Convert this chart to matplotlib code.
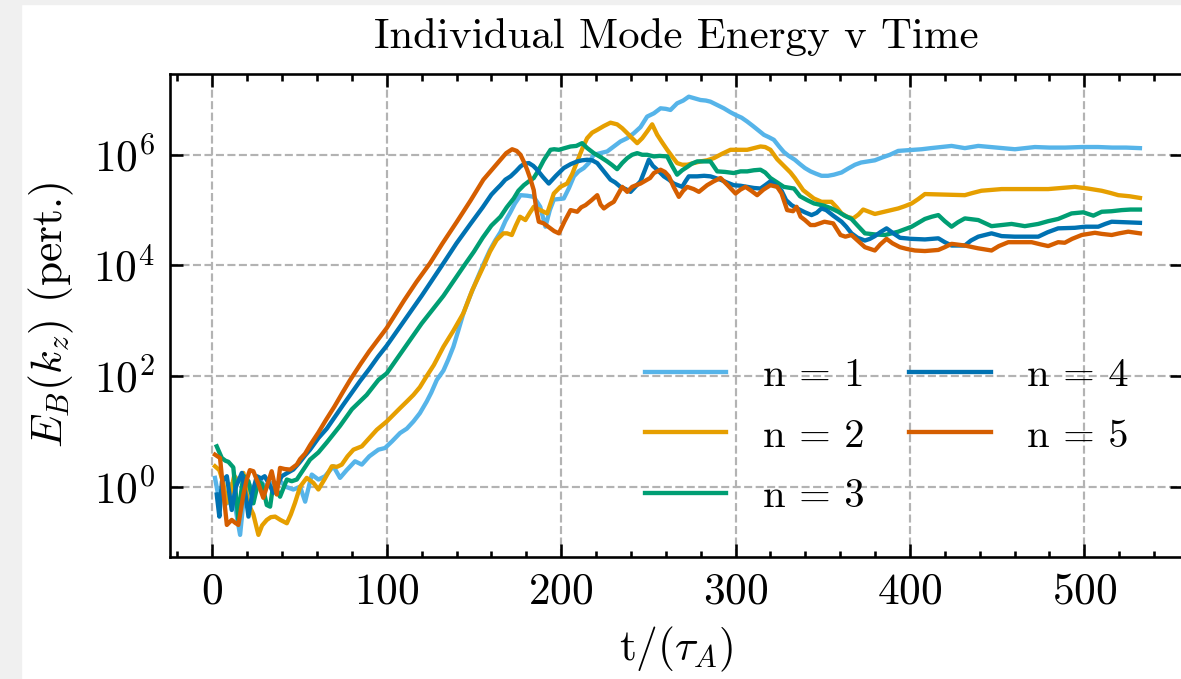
import numpy as np
import matplotlib
matplotlib.use('Agg')
import matplotlib.pyplot as plt
from matplotlib.patches import Rectangle
from matplotlib.ticker import AutoMinorLocator, NullLocator, LogLocator

# time (t / tau_A) and log10 of mode energy
t_n1 = [1.5, 3.5, 6, 8.5, 11, 13, 15.9, 18, 21, 24, 27.3, 30, 33, 36, 39, 42, 46.4, 50.3, 53.2, 57,
        60.8, 64.6, 69.4, 73.2, 77, 81.8, 85.7, 90, 95.2, 99, 103, 107.6, 111.5, 115.3, 119, 122.9,
        125.5, 128.7, 132.5, 135.3, 138.2, 141, 144, 147.8, 151.6, 155.4, 159.2, 162.2, 165.2, 168,
        170.7, 173.5, 176.7, 180.5, 184.3, 188, 191, 193.5, 195.8, 198.7, 201.5, 204.5, 207.3, 210,
        213, 215.8, 218.7, 222.5, 226.4, 230.2, 234, 237.9, 241.7, 245.5, 249.3, 253.2, 257, 260,
        262.7, 266.5, 270, 273.2, 276.5, 279.9, 283, 285.6, 289.5, 293.3, 297, 300, 303.5, 306.7,
        310, 313.5, 316.3, 319, 322, 325, 327.7, 330.5, 334, 337, 339.8, 343, 346, 349.3, 353,
        356.4, 360.8, 364.5, 368.5, 372, 376, 379.9, 384, 388.5, 393.3, 398, 402, 406.7, 412, 418,
        423.9, 431.5, 439.2, 446, 453, 460.2, 466, 471.7, 480, 489, 498.5, 508, 516, 524, 531.9]
lg_n1 = [0.16, -0.18, 0.0, -0.3, 0.05, -0.35, -0.87, -0.2, 0.05, -0.1, 0.13, 0.0, 0.08, -0.05, 0.1,
         0.0, -0.05, 0.0, -0.27, 0.22, 0.13, 0.19, 0.37, 0.16, 0.3, 0.46, 0.40, 0.55, 0.67, 0.70,
         0.82, 0.97, 1.05, 1.18, 1.33, 1.54, 1.7, 1.93, 2.1, 2.3, 2.53, 2.82, 3.14, 3.45, 3.74, 4.02,
         4.28, 4.45, 4.6, 4.8, 4.95, 5.12, 5.27, 5.26, 5.24, 5.06, 4.70, 5.0, 5.19, 5.2, 5.21, 5.4,
         5.61, 5.7, 5.76, 5.85, 6.0, 6.03, 6.06, 6.15, 6.24, 6.3, 6.39, 6.5, 6.69, 6.75, 6.84, 6.83,
         6.81, 6.93, 6.98, 7.05, 7.02, 6.99, 6.98, 6.96, 6.9, 6.84, 6.77, 6.72, 6.67, 6.60, 6.52,
         6.43, 6.36, 6.32, 6.27, 6.15, 6.05, 5.98, 5.91, 5.83, 5.76, 5.7, 5.66, 5.62, 5.62, 5.64,
         5.68, 5.75, 5.82, 5.86, 5.88, 5.90, 5.95, 6.0, 6.07, 6.08, 6.09, 6.10, 6.12, 6.14, 6.16,
         6.12, 6.16, 6.14, 6.12, 6.10, 6.12, 6.14, 6.13, 6.13, 6.14, 6.14, 6.13, 6.13, 6.12]

t_n2 = [1.5, 4, 6, 8.3, 10.5, 12.5, 15, 17.8, 20.5, 23.5, 26.4, 28.5, 31.2, 33.5, 36, 39, 42.7, 45,
        47.4, 50.3, 54.1, 57.9, 60.8, 64.6, 68.5, 71.5, 74.2, 77.5, 80.9, 85.7, 90, 94.3, 100, 103.8,
        107.6, 111.5, 115.3, 119, 122.9, 127, 132.5, 138.2, 144, 149, 155.4, 159.2, 163, 166.9, 169,
        171.7, 174, 176.4, 179.5, 182, 184.3, 188, 192, 195.8, 199.5, 203.4, 206.3, 209.2, 212,
        214.9, 217.8, 220.7, 224.5, 228.3, 232.1, 235, 237.9, 240.7, 243.6, 246.5, 249.3, 252.2,
        255.1, 258, 260.8, 263.6, 266.5, 269.4, 272.3, 276, 279.9, 283.7, 287.6, 292.4, 297.1,
        301.9, 306.7, 310.5, 314.3, 317, 320, 323.9, 327.7, 331.5, 334, 338.8, 344.9, 349.3, 355,
        358, 360.8, 364, 367.5, 370.5, 373.2, 376.5, 379.9, 386.6, 393.3, 397, 401, 404.8, 408.6,
        420, 431.5, 436, 441, 452.6, 466, 479.3, 487, 494.6, 502, 509.9, 515, 519.5, 526, 531.9]
lg_n2 = [0.37, 0.3, 0.1, -0.29, -0.1, 0.2, 0.1, 0.25, -0.3, -0.5, -0.87, -0.7, -0.6, -0.55, -0.54,
         -0.6, -0.66, -0.5, -0.29, 0.0, 0.16, 0.07, -0.05, 0.15, 0.37, 0.36, 0.40, 0.55, 0.67, 0.73,
         0.88, 1.03, 1.18, 1.3, 1.42, 1.54, 1.66, 1.8, 2.0, 2.2, 2.53, 2.82, 3.14, 3.55, 3.98, 4.25,
         4.46, 4.58, 4.58, 4.55, 4.72, 4.88, 4.82, 4.95, 5.06, 5.0, 4.94, 5.30, 5.42, 5.48, 5.65,
         5.88, 6.1, 6.30, 6.4, 6.45, 6.52, 6.58, 6.55, 6.48, 6.39, 6.3, 6.21, 6.3, 6.42, 6.55, 6.36,
         6.22, 6.09, 5.97, 5.85, 5.82, 5.82, 5.85, 5.88, 5.9, 5.94, 6.02, 6.09, 6.09, 6.09, 6.12,
         6.15, 6.14, 6.09, 5.92, 5.8, 5.68, 5.58, 5.36, 5.21, 5.15, 5.15, 5.05, 4.94, 4.88, 4.85,
         4.92, 5.01, 4.97, 4.93, 4.98, 5.03, 5.07, 5.12, 5.2, 5.29, 5.28, 5.27, 5.31, 5.35, 5.38,
         5.38, 5.38, 5.40, 5.42, 5.39, 5.35, 5.31, 5.27, 5.25, 5.22]

t_n3 = [2.5, 5.4, 7.5, 9.2, 12, 14.9, 16.5, 17.8, 20.7, 23.5, 26.4, 28.5, 31.2, 33.1, 34.5, 36, 38.8,
        42.7, 45.5, 48.4, 52, 56, 60.8, 65.6, 69.4, 73.2, 80, 88.5, 95.2, 100, 110, 120, 132.5, 144,
        150, 155, 160, 165.2, 168.8, 172.8, 175.5, 178.6, 181.5, 184.3, 187, 190, 193.9, 196,
        198.7, 202, 205.4, 208.7, 212, 215, 218.7, 222.5, 226.4, 229, 232.1, 235, 237.9, 240.7,
        243.6, 246.5, 249.3, 253.2, 256.5, 260.8, 263.6, 266.5, 269.4, 272.3, 275, 278, 281.8,
        285.6, 289.5, 294, 299, 302.9, 306.7, 310.5, 314.3, 317, 320, 323.9, 327.7, 333.5, 337,
        341.1, 345, 350.7, 355, 358.9, 362.5, 366.5, 370, 374.2, 380, 385.7, 393.3, 401, 408.6,
        412.5, 416.3, 420, 423.9, 427.5, 431.5, 439.2, 446.8, 452.6, 458.3, 465.9, 473.6, 479.3,
        485, 492.7, 499.4, 505.2, 510, 515.7, 521.4, 526.5, 531.9]
lg_n3 = [0.73, 0.52, 0.47, 0.45, 0.35, -0.6, -0.1, 0.2, 0.1, -0.3, 0.1, 0.05, -0.33, -0.36, -0.05,
         0.0, -0.18, 0.13, 0.1, 0.13, 0.3, 0.49, 0.62, 0.8, 0.95, 1.1, 1.4, 1.66, 1.93, 2.05, 2.5,
         2.95, 3.45, 3.98, 4.25, 4.5, 4.72, 4.88, 5.05, 5.21, 5.35, 5.45, 5.52, 5.58, 5.72, 5.9,
         6.09, 6.1, 6.09, 6.12, 6.15, 6.16, 6.21, 6.12, 6.03, 5.96, 5.88, 5.82, 5.74, 5.85, 5.94,
         6.0, 6.03, 6.0, 6.0, 5.97, 5.98, 5.97, 5.8, 5.64, 5.72, 5.78, 5.84, 5.88, 5.88, 5.88,
         5.70, 5.69, 5.67, 5.7, 5.70, 5.72, 5.73, 5.68, 5.58, 5.5, 5.42, 5.39, 5.25, 5.18, 5.12,
         5.08, 5.03, 4.97, 4.9, 4.84, 4.72, 4.58, 4.56, 4.55, 4.61, 4.70, 4.84, 4.88, 4.91, 4.8,
         4.70, 4.78, 4.85, 4.82, 4.71, 4.73, 4.75, 4.71, 4.75, 4.8, 4.84, 4.94, 4.96, 4.90, 4.97,
         4.98, 5.0, 5.01, 5.01]

t_n4 = [2.5, 4, 5.5, 8.3, 11.1, 13.5, 16.9, 18.8, 20.7, 23, 25.5, 28, 30, 32.5, 35, 37.5, 39.8, 43,
        46.4, 50.3, 53, 56, 60.8, 65.6, 70, 75, 80, 84.7, 90, 95, 100, 110, 120, 132.5, 140, 148,
        155, 160, 163, 165.2, 168, 171, 174, 176.7, 179, 181.5, 184, 186.2, 189.5, 192.9, 197,
        201.5, 205.4, 209.2, 212, 214.9, 217.8, 220.7, 224.5, 228.3, 231, 234, 237, 239.8, 242.5,
        245.5, 248, 250.3, 252.6, 255.1, 258.9, 261.8, 264.6, 267, 269.4, 271.3, 273.2, 278, 282,
        285.6, 291.4, 295, 299, 302.9, 306.7, 310.5, 314.3, 317, 320, 323, 326.4, 329, 332.1, 336,
        339.8, 343.6, 346.5, 349.3, 352, 356, 360.8, 363.5, 366.5, 370, 374.2, 377, 379.9, 383,
        386.6, 390.5, 394.3, 401, 408.6, 416.3, 420, 423.9, 431.5, 435, 439.2, 446.8, 452.6, 460,
        473.6, 479, 485, 494.6, 500.4, 508, 512, 515.7, 524, 531.9]
lg_n4 = [-0.14, -0.54, 0.1, 0.19, -0.42, 0.0, 0.25, -0.1, -0.54, -0.1, 0.19, 0.15, 0.19, 0.05,
         -0.11, 0.05, 0.19, 0.25, 0.31, 0.45, 0.56, 0.67, 0.88, 1.05, 1.25, 1.48, 1.7, 1.91, 2.13,
         2.35, 2.55, 3.0, 3.45, 4.04, 4.4, 4.75, 5.05, 5.28, 5.38, 5.45, 5.55, 5.61, 5.7, 5.79,
         5.84, 5.85, 5.8, 5.73, 5.6, 5.48, 5.62, 5.76, 5.83, 5.88, 5.9, 5.91, 5.9, 5.85, 5.7, 5.55,
         5.5, 5.42, 5.38, 5.33, 5.42, 5.52, 5.72, 5.91, 5.8, 5.73, 5.61, 5.55, 5.48, 5.45, 5.42,
         5.52, 5.61, 5.61, 5.62, 5.61, 5.55, 5.5, 5.45, 5.44, 5.42, 5.4, 5.39, 5.45, 5.52, 5.45,
         5.35, 5.18, 5.09, 5.02, 4.96, 4.91, 4.95, 5.03, 5.0, 4.9, 4.79, 4.7, 4.58, 4.5, 4.45,
         4.48, 4.53, 4.6, 4.67, 4.58, 4.50, 4.48, 4.47, 4.49, 4.42, 4.36, 4.36, 4.45, 4.52, 4.58,
         4.53, 4.52, 4.52, 4.6, 4.67, 4.68, 4.70, 4.70, 4.75, 4.79, 4.78, 4.77]

t_n5 = [1.5, 4.4, 6, 8.3, 11.1, 13, 14.9, 17.8, 19.7, 21.5, 23.5, 26.4, 29.2, 31.2, 34, 36.9, 38.8,
        41.5, 44.6, 48.4, 50.3, 53.2, 56, 60.8, 65, 70, 75, 79, 85, 90, 95, 100, 110, 117, 124.8,
        132, 140, 148, 155.4, 160, 165.2, 168.5, 171.9, 174.5, 176.7, 178.5, 180.5, 182.5, 184.3,
        185.8, 187.2, 190, 193.9, 196, 198.7, 202, 205.4, 209.2, 211.5, 214, 217.5, 220.7, 222.6,
        224.5, 227.5, 230.2, 232.5, 235, 237.9, 240.7, 243, 245.5, 249.3, 251, 253.2, 257, 259.5,
        261.8, 264.5, 267.5, 270, 272.3, 276, 279, 283.7, 287.5, 291.4, 295.5, 300, 302.8, 305.7,
        309, 312.4, 316, 320, 323.9, 326.4, 329.6, 333, 335, 337.3, 339.8, 343, 345.5, 351, 356,
        360.2, 363, 366.5, 370, 374.2, 379.9, 383, 386.6, 390, 394.3, 398, 402.9, 408.6, 416.3,
        420, 423.9, 431.5, 439, 446.8, 451, 456.4, 463, 469.8, 475, 479.3, 485, 488.8, 493, 498.5,
        506.1, 510, 515.7, 520, 525.2, 531.9]
lg_n5 = [0.58, 0.52, 0.0, -0.69, -0.6, -0.65, -0.69, -0.14, 0.13, 0.3, 0.28, 0.05, -0.2, 0.0, 0.28,
         -0.14, 0.34, 0.32, 0.31, 0.40, 0.5, 0.6, 0.75, 0.98, 1.2, 1.45, 1.72, 1.93, 2.22, 2.45,
         2.66, 2.87, 3.37, 3.7, 4.04, 4.4, 4.78, 5.17, 5.55, 5.72, 5.91, 6.03, 6.10, 6.07, 6.0,
         5.88, 5.73, 5.55, 5.36, 5.0, 4.79, 4.76, 4.67, 4.62, 4.58, 4.8, 5.0, 4.97, 5.05, 5.09,
         5.18, 5.27, 5.1, 5.03, 5.1, 5.15, 5.28, 5.42, 5.33, 5.42, 5.45, 5.48, 5.55, 5.58, 5.67,
         5.73, 5.69, 5.61, 5.42, 5.24, 5.35, 5.42, 5.38, 5.33, 5.45, 5.52, 5.58, 5.45, 5.30, 5.37,
         5.42, 5.35, 5.27, 5.37, 5.45, 5.42, 5.30, 5.0, 4.98, 5.06, 4.88, 4.82, 4.73, 4.73, 4.79,
         4.76, 4.55, 4.52, 4.55, 4.45, 4.33, 4.27, 4.38, 4.48, 4.4, 4.33, 4.3, 4.27, 4.26, 4.28,
         4.33, 4.39, 4.36, 4.31, 4.27, 4.35, 4.42, 4.42, 4.42, 4.38, 4.35, 4.42, 4.41, 4.48, 4.55,
         4.59, 4.57, 4.55, 4.58, 4.61, 4.58]

labels = ['n = 1', 'n = 2', 'n = 3', 'n = 4', 'n = 5']
colors = ['#56B4E9', '#E69F00', '#009E73', '#0072B2', '#D55E00']

plt.rcParams['font.family'] = 'serif'
plt.rcParams['font.serif'] = ['cmr10']
plt.rcParams['mathtext.fontset'] = 'cm'
plt.rcParams['axes.formatter.use_mathtext'] = True
plt.rcParams['font.size'] = 10
plt.rcParams['axes.unicode_minus'] = False

W, H = 1181, 679
fig = plt.figure(figsize=(W / 312, H / 312), dpi=312)
fig.patch.set_facecolor('white')
# grey page margin at the left and top of the screenshot
fig.patches.append(Rectangle((0, 0), 20 / W, 1, transform=fig.transFigure, color='#f0f0f0', zorder=-10))
fig.patches.append(Rectangle((0, 1 - 3 / H), 1, 3 / H, transform=fig.transFigure, color='#f0f0f0', zorder=-10))

ax = fig.add_axes([170 / W, 122 / H, 1013 / W, 483 / H])

series = [(t_n1, lg_n1), (t_n2, lg_n2), (t_n3, lg_n3), (t_n4, lg_n4), (t_n5, lg_n5)]
for (t, lg), lab, c in zip(series, labels, colors):
    ax.plot(t, 10 ** np.array(lg), color=c, lw=1.0, label=lab)

ax.set_yscale('log')
ax.set_xlim(-24.3, 556.6)
ax.set_ylim(10 ** -1.27, 10 ** 7.46)
ax.set_xticks([0, 100, 200, 300, 400, 500])
ax.xaxis.set_minor_locator(AutoMinorLocator(5))
ax.yaxis.set_major_locator(LogLocator(base=100))
ax.yaxis.set_minor_locator(NullLocator())

for s in ax.spines.values():
    s.set_linewidth(0.6)
ax.tick_params(which='both', direction='in', top=True, right=True, width=0.6)
ax.tick_params(which='major', length=3)
ax.tick_params(which='minor', length=1.5)
ax.grid(True, which='major', ls='--', lw=0.5, color='0.7')

ax.set_title('Individual Mode Energy v Time', fontsize=9.9)
ax.set_xlabel(r't/($\tau_A$)', labelpad=3.0)
ax.set_ylabel(r'$E_B(k_z)$ (pert.)')

ax.legend(ncol=2, frameon=False, loc='upper left', fontsize=9.4,
          labelspacing=0.59, columnspacing=1.1, handletextpad=0.9,
          bbox_to_anchor=((608 - 170) / 1013, (557 - 321) / 483))

fig.savefig('out.png', dpi=312)
